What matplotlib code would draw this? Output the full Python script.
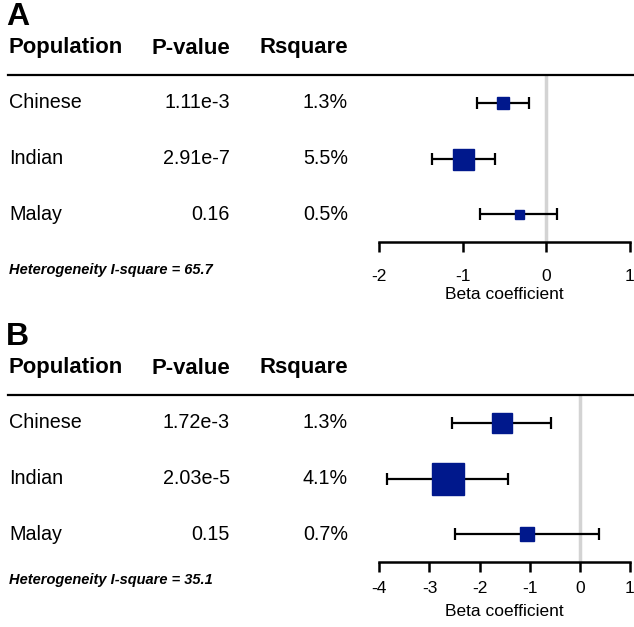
import matplotlib.pyplot as plt
from matplotlib.lines import Line2D

plt.rcParams['font.family'] = ['Liberation Sans', 'DejaVu Sans']
plt.rcParams['axes.unicode_minus'] = False

populations = ['Chinese', 'Indian', 'Malay']

# panel A
pval_a = ['1.11e-3', '2.91e-7', '0.16']
rsq_a = ['1.3%', '5.5%', '0.5%']
beta_a = [-0.52, -1.00, -0.33]
low_a = [-0.83, -1.37, -0.79]
high_a = [-0.21, -0.62, 0.13]
het_a = 65.7
ticks_a = [-2, -1, 0, 1]

# panel B
pval_b = ['1.72e-3', '2.03e-5', '0.15']
rsq_b = ['1.3%', '4.1%', '0.7%']
beta_b = [-1.56, -2.63, -1.06]
low_b = [-2.55, -3.84, -2.50]
high_b = [-0.58, -1.43, 0.39]
het_b = 35.1
ticks_b = [-4, -3, -2, -1, 0, 1]

W, H = 634, 627
fig = plt.figure(figsize=(W / 100, H / 100), dpi=100)
navy = '#00188c'


def fx(px):
    return px / W


def fy(py):
    return 1 - py / H


def panel(letter, top, pval, rsq, beta, low, high, het, ticks, box_px, het_off, tpad, lpad):
    # top = pixel y of header rule
    fig.text(fx(6), fy(top - 58), letter, fontsize=23, fontweight='bold', va='center')
    fig.text(fx(8), fy(top - 27), 'Population', fontsize=15.9, fontweight='bold', va='center')
    fig.text(fx(230), fy(top - 27), 'P-value', fontsize=15.9, fontweight='bold', va='center', ha='right')
    fig.text(fx(348), fy(top - 27), 'Rsquare', fontsize=15.9, fontweight='bold', va='center', ha='right')
    fig.add_artist(Line2D([fx(8), fx(634)], [fy(top), fy(top)], color='black', lw=1.6))
    for i, name in enumerate(populations):
        y = top + 28 + 55.8 * i
        fig.text(fx(9), fy(y), name, fontsize=14.2, va='center')
        fig.text(fx(230), fy(y), pval[i], fontsize=14.2, va='center', ha='right')
        fig.text(fx(348), fy(y), rsq[i], fontsize=14.2, va='center', ha='right')
    fig.text(fx(9), fy(top + het_off), 'Heterogeneity I-square = %.1f' % het,
             fontsize=10.5, fontweight='bold', style='italic', va='center')

    ax = fig.add_axes([fx(379.3), fy(top + 167), fx(630 - 379.3), 167 / H])
    ax.set_xlim(ticks[0], ticks[-1])
    ax.set_ylim(2.5, -0.5)
    ax.axvline(0, color='#d3d3d3', lw=2.5, zorder=0)
    ys = list(range(len(beta)))
    ax.errorbar(beta, ys, xerr=[[b - l for b, l in zip(beta, low)], [h - b for b, h in zip(beta, high)]],
                fmt='none', ecolor='black', elinewidth=1.6, capsize=4.5, capthick=1.6, zorder=2)
    for i in ys:
        ax.plot(beta[i], i, marker='s', color=navy, markersize=box_px[i] * 0.72, zorder=3)
    for s in ['top', 'left', 'right']:
        ax.spines[s].set_visible(False)
    ax.spines['bottom'].set_linewidth(1.8)
    ax.set_yticks([])
    ax.set_xticks(ticks)
    ax.tick_params(axis='x', length=7, width=1.8, labelsize=12.5, pad=tpad)
    ax.set_xlabel('Beta coefficient', fontsize=12.5, labelpad=lpad)
    ax.patch.set_alpha(0)


panel('A', 75, pval_a, rsq_a, beta_a, low_a, high_a, het_a, ticks_a, [12, 21, 9], 195, 12.5, 2)
panel('B', 395, pval_b, rsq_b, beta_b, low_b, high_b, het_b, ticks_b, [20, 32, 14], 185, 6.8, 5.5)

fig.savefig('out.png', dpi=100)
